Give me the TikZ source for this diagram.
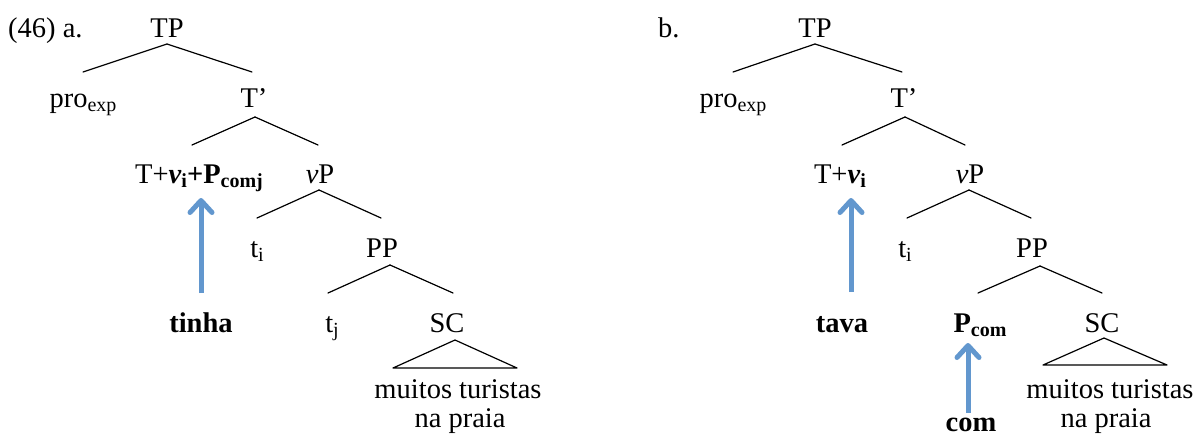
\documentclass[tikz,border=0pt]{standalone}
\usepackage{fontspec}
\setmainfont{Liberation Serif}
\usetikzlibrary{arrows.meta}
\definecolor{movblue}{RGB}{98,151,206}
\newcommand\lo[1]{\raisebox{-4pt}{\fontsize{20}{20}\selectfont #1}}
\tikzset{
  lbl/.style={anchor=base, inner sep=0pt, font=\fontsize{28.5}{33}\selectfont},
  branch/.style={line width=1.2pt, line cap=round},
  move/.style={line width=5pt, draw=movblue,
    -{Straight Barb[length=12pt,width=22pt,line cap=round,line join=round]}},
}
\begin{document}
\begin{tikzpicture}[x=1pt,y=-1pt]
\useasboundingbox (0,0) rectangle (1198,440);

% ---------- tree (a) ----------
\node[lbl, anchor=base west] (exa) at (8,37) {(46) a.};
\node[lbl] (TPa)  at (167,37)  {TP};
\node[lbl] (proa) at (83,107)  {pro\lo{exp}};
\node[lbl] (Tba)  at (254,107) {T’};
\node[lbl] (Tva)  at (199,183) {T+\textbf{\textit{v}\lo{i}+P\lo{comj}}};
\node[lbl] (vPa)  at (320,183) {\textit{v}P};
\node[lbl] (tia)  at (257,257) {t\lo{i}};
\node[lbl] (PPa)  at (382,257) {PP};
\node[lbl] (tja)  at (332,332) {t\lo{j}};
\node[lbl] (SCa)  at (447,332) {SC};
\node[lbl] (tinha) at (201,332) {\textbf{tinha}};
\node[lbl] (mta)  at (458,398) {muitos turistas};
\node[lbl] (npa)  at (460,427) {na praia};

\draw[branch] ([shift={(0,7)}]TPa.base) -- ([shift={(0,-35)}]proa.base);
\draw[branch] ([shift={(0,7)}]TPa.base) -- ([shift={(-2,-35)}]Tba.base);
\draw[branch] ([shift={(1,10)}]Tba.base) -- ([shift={(-7,-38)}]Tva.base);
\draw[branch] ([shift={(1,10)}]Tba.base) -- ([shift={(-2,-38)}]vPa.base);
\draw[branch] ([shift={(-1,7)}]vPa.base) -- ([shift={(0,-39)}]tia.base);
\draw[branch] ([shift={(-1,7)}]vPa.base) -- ([shift={(-1,-39)}]PPa.base);
\draw[branch] ([shift={(8,8)}]PPa.base) -- ([shift={(-4,-39)}]tja.base);
\draw[branch] ([shift={(8,8)}]PPa.base) -- ([shift={(6,-39)}]SCa.base);
\draw[branch, line join=round] ([shift={(8,8)}]SCa.base) -- ([shift={(-54,36)}]SCa.base)
  -- ([shift={(70,36)}]SCa.base) -- cycle;

\draw[move] ([shift={(0,-39)}]tinha.base) -- ([shift={(2,15)}]Tva.base);

% ---------- tree (b) ----------
\node[lbl, anchor=base west] (exb) at (658,37) {b.};
\node[lbl] (TPb)  at (815,37)  {TP};
\node[lbl] (prob) at (733,107) {pro\lo{exp}};
\node[lbl] (Tbb)  at (904,107) {T’};
\node[lbl] (Tvb)  at (840,183) {T+\textbf{\textit{v}\lo{i}}};
\node[lbl] (vPb)  at (970,183) {\textit{v}P};
\node[lbl] (tib)  at (905,257) {t\lo{i}};
\node[lbl] (PPb)  at (1032,257) {PP};
\node[lbl] (tava) at (842,332) {\textbf{tava}};
\node[lbl] (Pcom) at (980,332) {\textbf{P\lo{com}}};
\node[lbl] (SCb)  at (1102,332) {SC};
\node[lbl] (mtb)  at (1110,398) {muitos turistas};
\node[lbl] (npb)  at (1106,427) {na praia};
\node[lbl] (com)  at (971,431) {\textbf{com}};

\draw[branch] ([shift={(0,7)}]TPb.base) -- ([shift={(0,-35)}]prob.base);
\draw[branch] ([shift={(0,7)}]TPb.base) -- ([shift={(-2,-35)}]Tbb.base);
\draw[branch] ([shift={(1,10)}]Tbb.base) -- ([shift={(2,-38)}]Tvb.base);
\draw[branch] ([shift={(1,10)}]Tbb.base) -- ([shift={(-5,-38)}]vPb.base);
\draw[branch] ([shift={(-1,7)}]vPb.base) -- ([shift={(2,-39)}]tib.base);
\draw[branch] ([shift={(-1,7)}]vPb.base) -- ([shift={(-1,-39)}]PPb.base);
\draw[branch] ([shift={(8,9)}]PPb.base) -- ([shift={(-2,-39)}]Pcom.base);
\draw[branch] ([shift={(8,9)}]PPb.base) -- ([shift={(0,-39)}]SCb.base);
\draw[branch, line join=round] ([shift={(2,6)}]SCb.base) -- ([shift={(-59,33)}]SCb.base)
  -- ([shift={(65,33)}]SCb.base) -- cycle;

\draw[move] ([shift={(9,-40)}]tava.base) -- ([shift={(11,15)}]Tvb.base);
\draw[move] ([shift={(-3,-18)}]com.base) -- ([shift={(-12,11)}]Pcom.base);
\end{tikzpicture}
\end{document}
